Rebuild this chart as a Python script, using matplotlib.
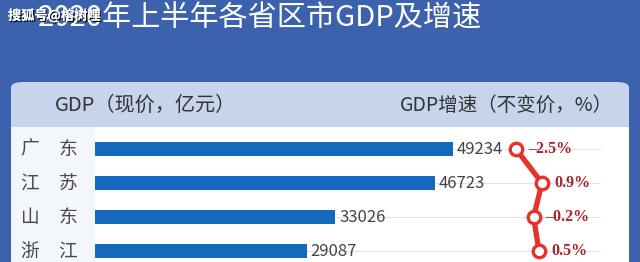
import matplotlib
matplotlib.use("Agg")
import matplotlib.pyplot as plt
import matplotlib.patheffects as pe
from matplotlib.patches import FancyBboxPatch, Rectangle
import numpy as np

plt.rcParams["font.family"] = ["Noto Sans CJK SC", "DejaVu Sans"]

# data
provinces = ["广东", "江苏", "山东", "浙江"]
gdp = [49234, 46723, 33026, 29087]
growth = [-2.5, 0.9, -0.2, 0.5]
growth_labels = ["\u20132.5%", "0.9%", "\u20130.2%", "0.5%"]

W, H = 640, 262
frame_blue = "#3c62ad"
header_blue = "#c6d4ec"
bar_blue = "#1469bd"
line_red = "#e5322b"
label_red = "#a8232b"

fig = plt.figure(figsize=(W / 100, H / 100), dpi=100)
fig.patch.set_facecolor(frame_blue)


def fx(px):
    return px / W


def fy(py):
    return 1 - py / H


# panel: light header + white body
panel = FancyBboxPatch((fx(11), fy(262) - 0.05), fx(629) - fx(11), fy(82) - fy(262) + 0.05,
                       boxstyle="round,pad=0,rounding_size=0.02", transform=fig.transFigure,
                       facecolor=header_blue, edgecolor="none", zorder=-3)
fig.patches.append(panel)
fig.patches.append(Rectangle((fx(11), 0), fx(629) - fx(11), fy(127), transform=fig.transFigure,
                             facecolor="white", edgecolor="none", zorder=-2))
fig.patches.append(Rectangle((fx(11), 0), fx(95) - fx(11), fy(127), transform=fig.transFigure,
                             facecolor="#f3f6fa", edgecolor="none", zorder=-1))

# titles
fig.text(fx(260), fy(19), "2020年上半年各省区市GDP及增速", color="white", fontsize=21,
         ha="center", va="center")
fig.text(fx(8), fy(16), "搜狐号@榕树哩", color="white", fontsize=9.5, fontweight="bold",
         ha="left", va="center",
         path_effects=[pe.withSimplePatchShadow(offset=(1, -1), shadow_rgbFace="black", alpha=0.9),
                       pe.Normal()])
fig.text(fx(55), fy(105), "GDP（现价，亿元）", color="#333333", fontsize=14.5, ha="left", va="center")
fig.text(fx(613), fy(105), "GDP增速（不变价，%）", color="#333333", fontsize=14, ha="right", va="center")

# bar axes
ax = fig.add_axes([fx(95), 0, fx(629) - fx(95), fy(127)])
ax.set_facecolor("none")
y = np.arange(len(provinces))
px_per_unit = 358 / 49234
ax.set_xlim(0, 534 / px_per_unit)
ax.set_ylim(3 + 11 / 34, -22 / 34)

for yi in y:
    ax.plot([0, 505 / px_per_unit], [yi, yi], color="#dfe4ea", lw=0.8, zorder=1)

ax.barh(y, gdp, height=0.41, color=bar_blue, zorder=2)
for yi, v in zip(y, gdp):
    ax.text(v + 4 / px_per_unit, yi, str(v), color="#444444", fontsize=12, ha="left", va="center",
            zorder=3)
for yi, name in zip(y, provinces):
    # the two characters sit in separate columns
    ax.text(-65 / px_per_unit, yi, name[0], color="#4a4a4a", fontsize=13.5,
            ha="center", va="center", clip_on=False)
    ax.text(-27 / px_per_unit, yi, name[1], color="#4a4a4a", fontsize=13.5,
            ha="center", va="center", clip_on=False)
ax.axis("off")

# growth line
ax2 = ax.twiny()
ax2.set_facecolor("none")
g_px = 7.65
ax2.set_xlim(-2.5 - 421 / g_px, -2.5 - 421 / g_px + 534 / g_px)
ax2.set_ylim(3 + 11 / 34, -22 / 34)
ax2.plot(growth, y, color=line_red, lw=3.8, marker="o", ms=9, mfc="white", mec=line_red,
         mew=2.4, zorder=4, solid_capstyle="round")
for yi, g, lab in zip(y, growth, growth_labels):
    ax2.text(g + 12 / g_px, yi, lab, color=label_red, fontsize=11.5, fontweight="bold",
             family="Liberation Serif", ha="left", va="center", zorder=5)
ax2.axis("off")

fig.savefig("out.png", dpi=100, facecolor=fig.get_facecolor())
